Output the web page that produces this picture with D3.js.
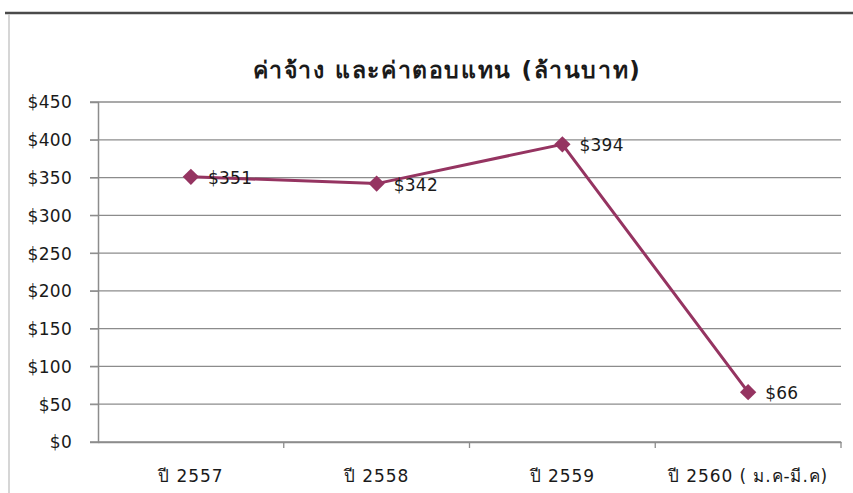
<!DOCTYPE html>
<meta charset="utf-8">
<script src="https://d3js.org/d3.v7.min.js"></script>
<style>
  body { margin: 0; background: #fff; }
  text { font-family: Tahoma, "DejaVu Sans", Verdana, sans-serif; fill: #1a1a1a; }
</style>
<body>
<div id="chart"></div>
<script>
  // chart data
  var categories = ["ปี 2557", "ปี 2558", "ปี 2559", "ปี 2560 ( ม.ค-มี.ค)"];
  var values = [351, 342, 394, 66];
  var yTicks = [0, 50, 100, 150, 200, 250, 300, 350, 400, 450];
  var title = "ค่าจ้าง และค่าตอบแทน (ล้านบาท)";

  var width = 853, height = 493;
  var margin = {left: 98, right: 12, top: 102, bottom: 51};
  var labelFont = "17px";

  var svg = d3.select("#chart").append("svg")
      .attr("width", width)
      .attr("height", height);

  // frame of the chart box
  svg.append("line")
      .attr("x1", 5).attr("x2", width).attr("y1", 13).attr("y2", 13)
      .attr("stroke", "#4a4a4a").attr("stroke-width", 2.5);
  svg.append("line")
      .attr("x1", 9).attr("x2", 9).attr("y1", 14).attr("y2", height)
      .attr("stroke", "#c8c8c8").attr("stroke-width", 1.5);

  var x = d3.scaleBand()
      .domain(categories)
      .range([margin.left, width - margin.right]);

  var y = d3.scaleLinear()
      .domain([0, 450])
      .range([height - margin.bottom, margin.top]);

  // gridlines
  svg.append("g")
      .selectAll("line")
      .data(yTicks)
      .join("line")
        .attr("x1", margin.left - 8)
        .attr("x2", width - margin.right)
        .attr("y1", d => y(d))
        .attr("y2", d => y(d))
        .attr("stroke", "#8c8c8c")
        .attr("stroke-width", 1.3);

  // y axis
  var yAxis = svg.append("g")
      .attr("transform", "translate(" + margin.left + ",0)")
      .call(d3.axisLeft(y).tickValues(yTicks).tickSize(8).tickFormat(d => "$" + d));
  yAxis.select(".domain").attr("stroke", "#8c8c8c").attr("stroke-width", 1.5);
  yAxis.selectAll(".tick line").attr("stroke", "#8c8c8c");
  yAxis.selectAll(".tick text")
      .attr("x", -26)
      .attr("dy", "0.35em")
      .style("font-size", labelFont)
      .style("letter-spacing", "0.3px")
      .style("font-family", "Tahoma, 'DejaVu Sans', Verdana, sans-serif")
      .attr("fill", "#1a1a1a");

  // x axis
  var xAxis = svg.append("g")
      .attr("transform", "translate(0," + y(0) + ")")
      .call(d3.axisBottom(x).tickSize(0).tickSizeOuter(0));
  xAxis.select(".domain").attr("stroke", "#8c8c8c").attr("stroke-width", 1.5);
  xAxis.selectAll(".tick text")
      .attr("y", 28)
      .style("font-size", labelFont)
      .style("letter-spacing", "0.9px")
      .style("font-family", "Tahoma, 'DejaVu Sans', Verdana, sans-serif")
      .attr("fill", "#1a1a1a");

  // category boundary ticks
  svg.append("g")
      .selectAll("line")
      .data(categories)
      .join("line")
        .attr("x1", d => x(d) + x.bandwidth())
        .attr("x2", d => x(d) + x.bandwidth())
        .attr("y1", y(0))
        .attr("y2", y(0) + 6)
        .attr("stroke", "#8c8c8c")
        .attr("stroke-width", 1.3);

  var cx = (d, i) => x(categories[i]) + x.bandwidth() / 2;

  // line
  var line = d3.line()
      .x((d, i) => cx(d, i))
      .y(d => y(d));

  svg.append("path")
      .datum(values)
      .attr("d", line)
      .attr("fill", "none")
      .attr("stroke", "#953461")
      .attr("stroke-width", 3);

  // diamond markers
  svg.append("g")
      .selectAll("path")
      .data(values)
      .join("path")
        .attr("d", d3.symbol().type(d3.symbolDiamond2).size(170))
        .attr("transform", (d, i) => "translate(" + cx(d, i) + "," + y(d) + ")")
        .attr("fill", "#953461");

  // data labels
  svg.append("g")
      .selectAll("text")
      .data(values)
      .join("text")
        .attr("x", (d, i) => cx(d, i) + 17)
        .attr("y", (d, i) => y(d) + 7)
        .style("font-size", labelFont)
        .style("letter-spacing", "0.3px")
        .text(d => "$" + d);

  // title
  svg.append("text")
      .attr("x", 447)
      .attr("y", 78)
      .attr("text-anchor", "middle")
      .style("font-size", "23px")
      .style("font-weight", "bold")
      .style("letter-spacing", "1.6px")
      .text(title);
</script>
</body>
